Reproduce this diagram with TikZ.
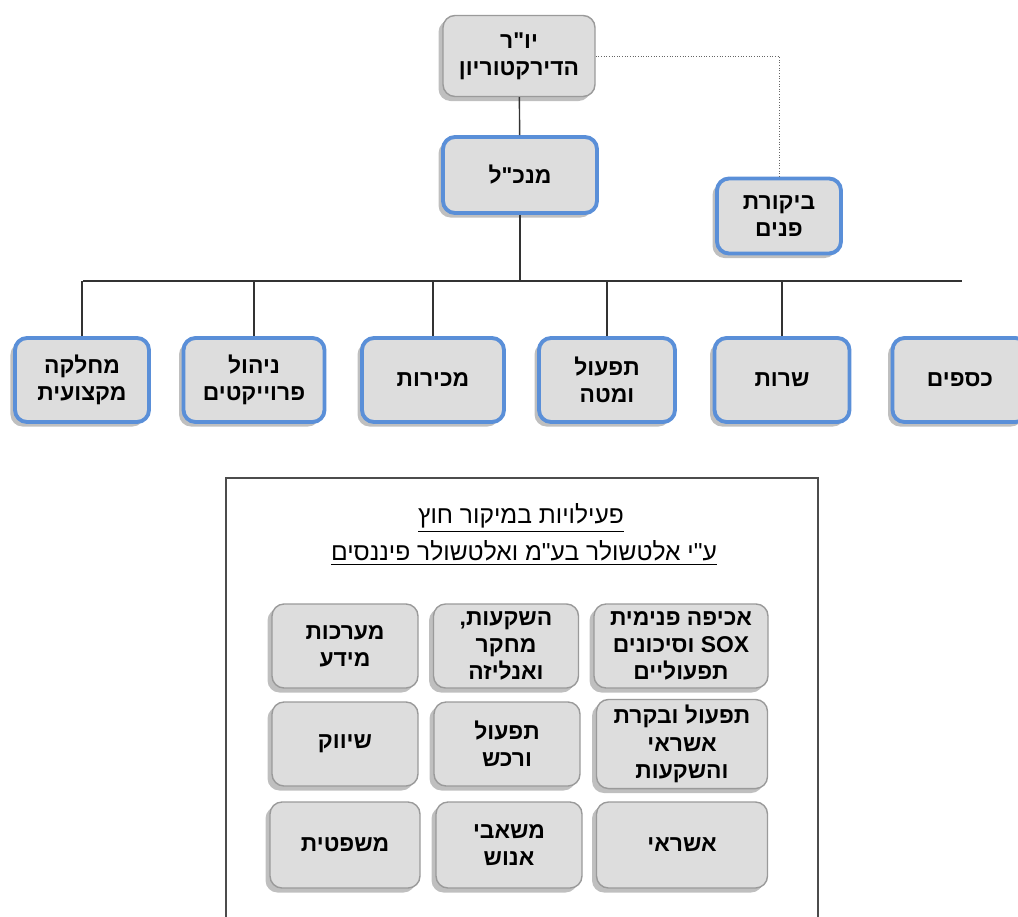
\documentclass[tikz,border=0pt]{standalone}
\usepackage{fontspec}
\usetikzlibrary{shadows}
\newfontfamily\hebfont[Script=Hebrew]{Liberation Sans}
\TeXXeTstate=1

\definecolor{boxgray}{HTML}{DDDDDD}
\definecolor{boxblue}{HTML}{5A8FD8}
\definecolor{edgegray}{HTML}{9A9A9A}

\tikzset{
  orgbox/.style={rounded corners=2.4mm, fill=boxgray, align=center,
    font=\hebfont\bfseries\fontsize{13}{15.5}\selectfont,
    drop shadow={shadow xshift=-0.9mm, shadow yshift=-0.9mm, fill=black!50, opacity=0.5}},
  bluebox/.style={orgbox, draw=boxblue, line width=2.2pt},
  graybox/.style={orgbox, draw=edgegray, line width=0.8pt},
  link/.style={draw=black!80, line width=0.8pt},
  heading/.style={font=\hebfont\fontsize{14}{16}\selectfont},
}

\begin{document}
\begin{tikzpicture}[x=0.2mm, y=-0.2mm]
    \useasboundingbox (0,0) rectangle (1018,916);

    % Chairman and CEO
    \node[graybox, minimum width=30.4mm, minimum height=16.2mm] (chair) at (519,56)
        {\beginR יו"ר\endR\\\beginR הדירקטוריון\endR};
    \node[bluebox, minimum width=30.8mm, minimum height=15.2mm] (ceo) at (520,175)
        {\beginR מנכ"ל\endR};
    \node[bluebox, minimum width=24.8mm, minimum height=15mm] (audit) at (779,216)
        {\beginR ביקורת\endR\\\beginR פנים\endR};

    \draw[link] (chair) -- (ceo);
    \draw[densely dotted, draw=black!60, line width=0.5pt] (chair.east) -| (audit.north);

    % Departments
    \node[bluebox, minimum width=26.8mm, minimum height=16.8mm] (prof) at (82,380)
        {\beginR מחלקה\endR\\\beginR מקצועית\endR};
    \node[bluebox, minimum width=28.2mm, minimum height=16.8mm] (proj) at (254,380)
        {\beginR ניהול\endR\\\beginR פרוייקטים\endR};
    \node[bluebox, minimum width=28.4mm, minimum height=16.8mm] (sales) at (433,380)
        {\beginR מכירות\endR};
    \node[bluebox, minimum width=27.2mm, minimum height=16.8mm] (ops) at (607,380)
        {\beginR תפעול\endR\\\beginR ומטה\endR};
    \node[bluebox, minimum width=27mm, minimum height=16.8mm] (service) at (782,380)
        {\beginR שרות\endR};
    \node[bluebox, minimum width=27mm, minimum height=16.8mm] (finance) at (960,380)
        {\beginR כספים\endR};

    % Bus line
    \coordinate (busL) at (83,281);
    \coordinate (busR) at (962,281);
    \draw[link] (ceo.south) -- (ceo.south |- busL);
    \draw[link] (busL) -- (busR);
    \foreach \dep in {prof, proj, sales, ops, service}
        \draw[link] (\dep.north) -- (\dep.north |- busL);

    % Outsourced activities frame
    \draw[draw=black!70, line width=0.8pt] (226,925) -- (226,478) -- (818,478) -- (818,925);
    \node[heading] (title1) at (521,518)
        {\underline{\beginR פעילויות במיקור חוץ\endR}};
    \node[heading] (title2) at (524,553)
        {\underline{\beginR ע"י אלטשולר בע"מ ואלטשולר פיננסים\endR}};

    % Outsourced units
    \node[graybox, minimum width=34.8mm, minimum height=16.8mm] (sox) at (681,646)
        {\beginR אכיפה פנימית\endR\\\beginR\beginL SOX\endL{} וסיכונים\endR\\\beginR תפעוליים\endR};
    \node[graybox, minimum width=29mm, minimum height=16.8mm] (invest) at (506,646)
        {\beginR השקעות,\endR\\\beginR מחקר\endR\\\beginR ואנליזה\endR};
    \node[graybox, minimum width=29.2mm, minimum height=16.8mm] (infosys) at (345,646)
        {\beginR מערכות\endR\\\beginR מידע\endR};

    \node[graybox, minimum width=34.2mm, minimum height=16.8mm] (credops) at (682,744)
        {\beginR תפעול ובקרת\endR\\\beginR אשראי\endR\\\beginR והשקעות\endR};
    \node[graybox, minimum width=29.2mm, minimum height=16.8mm] (procure) at (507,744)
        {\beginR תפעול\endR\\\beginR ורכש\endR};
    \node[graybox, minimum width=29.2mm, minimum height=16.8mm] (market) at (345,744)
        {\beginR שיווק\endR};

    \node[graybox, minimum width=34.2mm, minimum height=17.2mm] (credit) at (682,845)
        {\beginR אשראי\endR};
    \node[graybox, minimum width=29.2mm, minimum height=17.2mm] (hr) at (509,845)
        {\beginR משאבי\endR\\\beginR אנוש\endR};
    \node[graybox, minimum width=30mm, minimum height=17.2mm] (legal) at (345,845)
        {\beginR משפטית\endR};
\end{tikzpicture}
\end{document}
